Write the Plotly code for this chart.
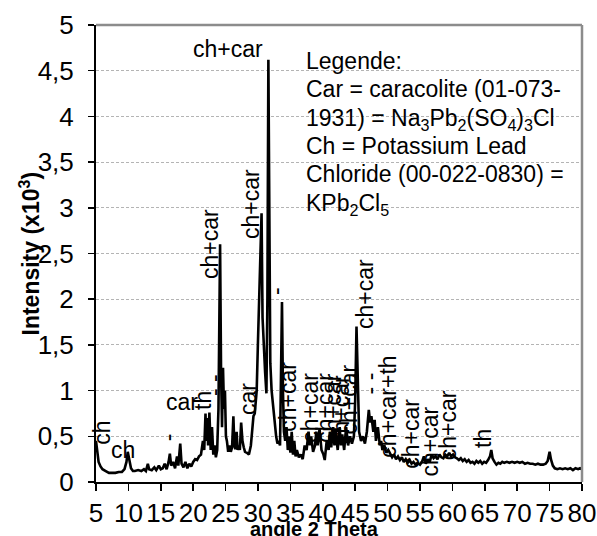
import plotly.graph_objects as go

# ---- data ----
two_theta = [5.0, 5.2, 5.4, 5.7, 6.0, 6.5, 7.0, 7.5, 8.0, 8.5, 9.0, 9.4, 9.7, 9.9, 10.0, 10.2, 10.4, 10.7,
             11.0, 11.5, 12.0, 12.4, 12.7, 13.0, 13.2, 13.6, 14.0, 14.3, 14.7, 15.0, 15.3, 15.6, 15.9, 16.2,
             16.4, 16.6, 16.9, 17.2, 17.5, 17.7, 18.0, 18.2, 18.5, 18.8, 19.1, 19.4, 19.7, 20.0, 20.3, 20.6,
             20.9, 21.2, 21.5, 21.7, 21.9, 22.0, 22.2, 22.3, 22.5, 22.7, 22.9, 23.1, 23.3, 23.5, 23.7, 23.9,
             24.0, 24.15, 24.3, 24.45, 24.6, 24.75, 24.9, 25.05, 25.2, 25.4, 25.6, 25.8, 26.0, 26.2, 26.35,
             26.5, 26.7, 26.85, 27.0, 27.2, 27.4, 27.6, 27.8, 28.0, 28.3, 28.6, 28.9, 29.1, 29.3, 29.5, 29.8,
             30.0, 30.2, 30.4, 30.55, 30.7, 30.9, 31.1, 31.3, 31.45, 31.6, 31.75, 31.9, 32.1, 32.3, 32.6, 32.8,
             33.0, 33.2, 33.4, 33.55, 33.7, 33.85, 34.0, 34.2, 34.4, 34.6, 34.8, 35.0, 35.2, 35.4, 35.6, 35.8,
             36.0, 36.3, 36.6, 36.9, 37.2, 37.5, 37.8, 38.0, 38.2, 38.5, 38.8, 39.0, 39.2, 39.5, 39.8, 40.1,
             40.3, 40.6, 40.9, 41.1, 41.3, 41.6, 41.8, 42.0, 42.3, 42.6, 42.8, 43.0, 43.3, 43.6, 43.9, 44.2,
             44.5, 44.8, 45.0, 45.2, 45.4, 45.6, 45.9, 46.2, 46.5, 46.8, 47.1, 47.3, 47.5, 47.8, 48.0, 48.2,
             48.5, 48.8, 49.0, 49.2, 49.5, 49.8, 50.1, 50.4, 50.7, 51.0, 51.3, 51.6, 51.9, 52.2, 52.5, 52.8,
             53.1, 53.4, 53.7, 54.0, 54.3, 54.6, 55.0, 55.3, 55.6, 55.9, 56.2, 56.5, 56.8, 57.1, 57.4, 57.7,
             58.0, 58.3, 58.6, 58.9, 59.2, 59.5, 59.8, 60.1, 60.4, 60.7, 61.0, 61.3, 61.6, 61.9, 62.2, 62.5,
             62.8, 63.1, 63.4, 63.7, 64.0, 64.3, 64.6, 64.9, 65.2, 65.5, 65.8, 66.0, 66.2, 66.5, 66.8, 67.1,
             67.4, 67.7, 68.0, 68.4, 68.8, 69.2, 69.6, 70.0, 70.4, 70.8, 71.2, 71.6, 72.0, 72.4, 72.8, 73.2,
             73.6, 74.0, 74.4, 74.7, 75.0, 75.2, 75.5, 75.8, 76.2, 76.6, 77.0, 77.4, 77.8, 78.2, 78.6, 79.0,
             79.4, 79.7, 80.0]
intensity = [0.45, 0.30, 0.22, 0.17, 0.14, 0.12, 0.10, 0.10, 0.10, 0.11, 0.11, 0.14, 0.22, 0.33, 0.30, 0.22, 0.15, 0.12,
             0.12, 0.13, 0.12, 0.14, 0.12, 0.20, 0.14, 0.13, 0.16, 0.13, 0.18, 0.14, 0.15, 0.20, 0.14, 0.22,
             0.31, 0.18, 0.22, 0.15, 0.28, 0.18, 0.42, 0.20, 0.16, 0.22, 0.15, 0.20, 0.17, 0.22, 0.25, 0.24,
             0.28, 0.30, 0.45, 0.35, 0.75, 0.45, 0.70, 0.40, 0.76, 0.35, 0.60, 0.30, 0.40, 0.27, 0.35, 0.80,
             1.50, 2.60, 1.20, 0.60, 1.25, 0.80, 1.00, 0.50, 0.45, 0.33, 0.40, 0.33, 0.38, 0.72, 0.40,
             0.36, 0.55, 0.35, 0.40, 0.35, 0.65, 0.45, 0.38, 0.33, 0.32, 0.30, 0.40, 0.55, 0.72, 0.75, 1.00,
             1.55, 2.00, 2.50, 2.94, 1.80, 1.45, 1.20, 0.97, 2.00, 4.62, 2.50, 1.30, 1.00, 0.85, 0.60, 0.50,
             0.42, 0.45, 0.40, 1.20, 1.97, 1.00, 0.55, 0.45, 0.60, 0.35, 0.50, 0.32, 0.55, 0.30, 0.45, 0.28,
             0.35, 0.27, 0.30, 0.25, 0.40, 0.35, 0.55, 0.40, 0.50, 0.33, 0.40, 0.55, 0.40, 0.58, 0.35, 0.30,
             0.24, 0.45, 0.35, 0.55, 0.38, 0.60, 0.40, 0.55, 0.35, 0.60, 0.40, 0.52, 0.35, 0.60, 0.40, 0.50,
             0.42, 0.50, 0.90, 1.70, 0.90, 0.55, 0.45, 0.50, 0.42, 0.55, 0.79, 0.65, 0.72, 0.55, 0.68, 0.45,
             0.60, 0.40, 0.45, 0.35, 0.40, 0.32, 0.35, 0.30, 0.27, 0.30, 0.25, 0.28, 0.24, 0.27, 0.22, 0.25,
             0.21, 0.24, 0.20, 0.22, 0.19, 0.21, 0.19, 0.22, 0.28, 0.20, 0.25, 0.22, 0.30, 0.26, 0.28, 0.25,
             0.30, 0.27, 0.26, 0.30, 0.28, 0.32, 0.28, 0.30, 0.27, 0.26, 0.24, 0.26, 0.23, 0.25, 0.22, 0.24,
             0.21, 0.22, 0.20, 0.23, 0.21, 0.23, 0.20, 0.22, 0.21, 0.24, 0.28, 0.35, 0.26, 0.22, 0.19, 0.21,
             0.20, 0.22, 0.21, 0.22, 0.21, 0.22, 0.21, 0.22, 0.21, 0.22, 0.20, 0.21, 0.20, 0.20, 0.19, 0.20,
             0.19, 0.19, 0.20, 0.23, 0.33, 0.25, 0.18, 0.15, 0.14, 0.15, 0.14, 0.15, 0.14, 0.15, 0.13, 0.15,
             0.14, 0.15, 0.14]

# peak labels
label_text = ["ch", "ch", "car", "th", "-", "- -", "ch+car", "ch+car", "ch+car", "car", "-",
              "ch+car", "ch+car", "ch+car", "ch+car", "ch+car", "ch+car", "ch+car", "- -",
              "ch+car+th", "ch+car", "ch+car", "ch+car", "th"]
label_x = [5.8, 9.2, 18.2, 21.4, 16.1, 23.2, 22.7, 28.9, 25.4, 28.5, 32.8,
           34.6, 38.0, 40.3, 41.6, 42.7, 44.0, 46.4, 47.3,
           50.0, 53.5, 56.5, 59.3, 64.7]
label_y = [0.54, 0.35, 0.88, 0.89, 0.49, 1.06, 2.60, 3.04, 4.74, 0.91, 2.09,
           0.93, 0.81, 0.81, 0.81, 0.79, 0.90, 2.06, 1.08,
           0.82, 0.53, 0.44, 0.62, 0.48]
label_rot = [-90, 0, 0, -90, -90, -90, -90, -90, 0, -90, -90,
             -90, -90, -90, -90, -90, -90, -90, -90,
             -90, -90, -90, -90, -90]

y_ticks = [0, 0.5, 1, 1.5, 2, 2.5, 3, 3.5, 4, 4.5, 5]
y_ticktext = ["0", "0,5", "1", "1,5", "2", "2,5", "3", "3,5", "4", "4,5", "5"]
x_ticks = [5, 10, 15, 20, 25, 30, 35, 40, 45, 50, 55, 60, 65, 70, 75, 80]

legend_lines = ["Legende:",
                "Car = caracolite (01-073-",
                "1931) = Na<sub>3</sub>Pb<sub>2</sub>(SO<sub>4</sub>)<sub>3</sub>Cl",
                "Ch = Potassium Lead",
                "Chloride (00-022-0830) =",
                "KPb<sub>2</sub>Cl<sub>5</sub>"]

FONT = "Liberation Sans, Arial, sans-serif"

fig = go.Figure()
fig.add_trace(go.Scatter(x=two_theta, y=intensity, mode="lines",
                         line=dict(color="black", width=2.6), showlegend=False,
                         hoverinfo="skip"))

annotations = []
for t, x, y, r in zip(label_text, label_x, label_y, label_rot):
    annotations.append(dict(x=x, y=y, xref="x", yref="y", text=t, textangle=r,
                            showarrow=False, font=dict(family=FONT, size=23, color="black")))

# legend text block, one line per annotation (line pitch ~28 px)
for i, line in enumerate(legend_lines):
    annotations.append(dict(x=0.428, y=1, xref="paper", yref="paper", xanchor="left",
                            yanchor="top", yshift=-21 - 28.2 * i - (1 if i in (2, 5) else 0),
                            text=line, align="left", showarrow=False,
                            font=dict(family=FONT, size=23, color="black")))
annotations.append(dict(x=0.45, y=0, xref="paper", yref="paper", yshift=-47, xanchor="center",
                        yanchor="middle", text="<b>angle 2 Theta</b>", showarrow=False,
                        font=dict(family=FONT, size=20, color="black")))
annotations.append(dict(x=0, y=0.5, xref="paper", yref="paper", xshift=-67, xanchor="center",
                        yanchor="middle", textangle=-90, text="<b>Intensity (x10<sup>3</sup>)</b>",
                        showarrow=False, font=dict(family=FONT, size=23, color="black")))

fig.update_layout(
    width=597, height=536,
    margin=dict(l=96, r=15, t=25, b=54, autoexpand=False),
    paper_bgcolor="white", plot_bgcolor="white",
    font=dict(family=FONT, color="black"),
    annotations=annotations,
    shapes=[
        dict(type="line", xref="paper", yref="paper", x0=0, x1=1, y0=1, y1=1,
             line=dict(color="#8c8c8c", width=2.5)),
        dict(type="line", xref="paper", yref="paper", x0=1, x1=1, y0=0, y1=1,
             line=dict(color="#8c8c8c", width=2.5)),
    ],
)
fig.update_xaxes(range=[5, 80], tickvals=x_ticks, ticks="outside", ticklen=7, tickwidth=1.5,
                 tickcolor="black", showline=True, linecolor="black", linewidth=2,
                 showgrid=False, zeroline=False, ticklabelstandoff=0, automargin=False,
                 tickfont=dict(family=FONT, size=26, color="black"))
fig.update_yaxes(range=[0, 5], tickvals=y_ticks, ticktext=y_ticktext, ticks="outside", ticklen=6,
                 tickwidth=1.5, tickcolor="black", showline=True, linecolor="black", linewidth=2,
                 showgrid=True, gridcolor="#b4b4b4", gridwidth=1, griddash="3px,2px",
                 zeroline=False, ticklabelstandoff=9, automargin=False,
                 tickfont=dict(family=FONT, size=26, color="black"))

fig.write_html("out.html", config={"displayModeBar": False, "staticPlot": True},
               post_script="document.body.style.margin='0';document.body.style.padding='0';")
